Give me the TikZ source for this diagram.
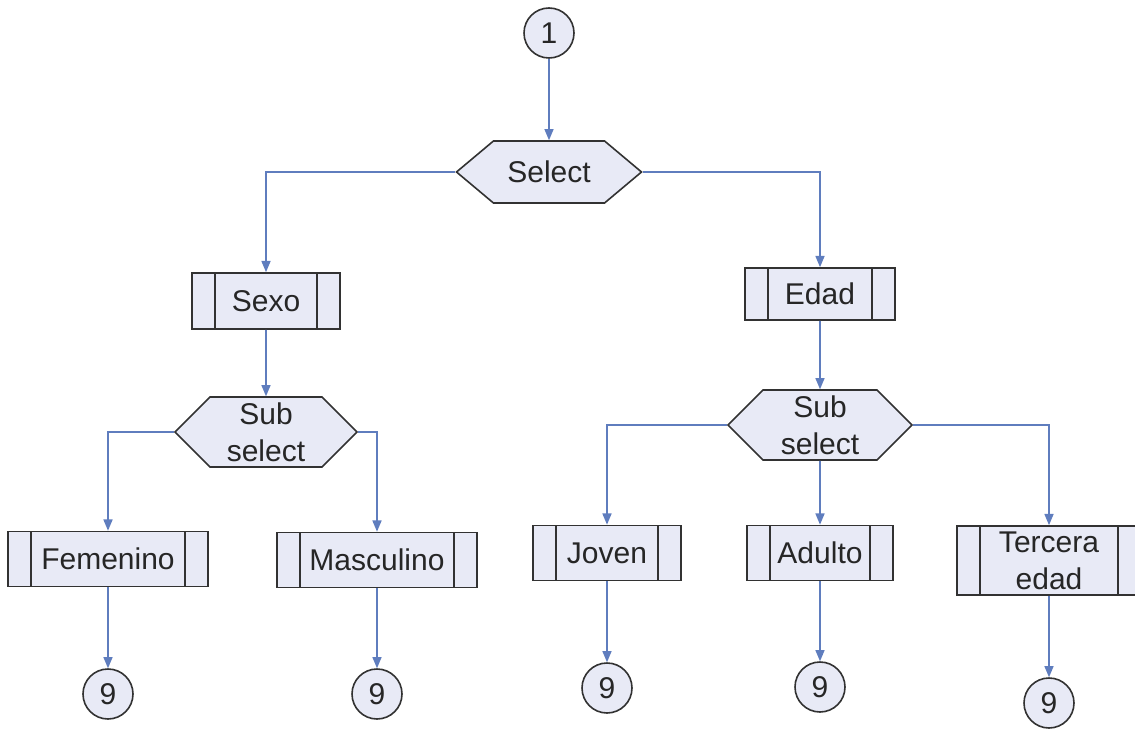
\documentclass[tikz,border=0pt]{standalone}
\usepackage{fontspec}
\setmainfont{Liberation Sans}
\usetikzlibrary{arrows, shapes.symbols}

\definecolor{boxfill}{RGB}{232,234,246}
\definecolor{flowblue}{RGB}{95,125,190}
\definecolor{boxline}{RGB}{50,50,50}

\tikzset{
  conn/.style={draw=boxline, fill=boxfill, circle, line width=1.6pt, minimum size=50pt, inner sep=0pt},
  choice/.style={draw=boxline, fill=boxfill, signal, signal to=west and east, line width=1.6pt, inner sep=0pt, align=center},
  proc/.style={draw=boxline, fill=boxfill, rectangle, line width=1.8pt, minimum height=55pt, inner sep=0pt, align=center,
    path picture={
      \draw[boxline, line width=1.8pt]
        ([xshift=23pt]path picture bounding box.north west) -- ([xshift=23pt]path picture bounding box.south west)
        ([xshift=-23pt]path picture bounding box.north east) -- ([xshift=-23pt]path picture bounding box.south east);}},
  flow/.style={draw=flowblue, line width=1.6pt, -triangle 45}
}

\begin{document}
\begin{tikzpicture}[x=1pt, y=-1pt, font=\fontsize{30}{37}\selectfont, text=black!85]
\useasboundingbox (0,0) rectangle (1135,730);
\node[conn] (one) at (549,33) {1};
\node[choice, minimum width=185pt, minimum height=62pt, signal pointer angle=80] (sel) at (549,172) {Select};
\node[proc, minimum width=148pt, minimum height=56pt] (sexo) at (266,301) {Sexo};
\node[proc, minimum width=150pt, minimum height=52pt] (edad) at (820,294) {Edad};
\node[choice, minimum width=182pt, minimum height=70pt, signal pointer angle=90] (subsexo) at (266,432) {Sub\\select};
\node[choice, minimum width=184pt, minimum height=70pt, signal pointer angle=90] (subedad) at (820,425) {Sub\\select};
\node[proc, minimum width=200pt] (fem) at (108,559) {Femenino};
\node[proc, minimum width=200pt] (masc) at (377,560) {Masculino};
\node[proc, minimum width=148pt] (joven) at (607,553) {Joven};
\node[proc, minimum width=146pt] (adulto) at (820,553) {Adulto};
\node[proc, minimum width=184pt, minimum height=69pt] (tercera) at (1049,560.5) {Tercera\\edad};
\node[conn] (nfem) at (108,694) {9};
\node[conn] (nmasc) at (377,694) {9};
\node[conn] (njoven) at (607,688) {9};
\node[conn] (nadulto) at (820,687) {9};
\node[conn] (ntercera) at (1049,703) {9};
\draw[flow] (one) -- (sel);
\draw[flow] (sel.west) -| (sexo);
\draw[flow] (sel.east) -| (edad);
\draw[flow] (sexo) -- (subsexo);
\draw[flow] (edad) -- (subedad);
\draw[flow] (subsexo.west) -| (fem);
\draw[flow] (subsexo.east) -| (masc);
\draw[flow] (subedad.west) -| (joven);
\draw[flow] (subedad) -- (adulto);
\draw[flow] (subedad.east) -| (tercera);
\draw[flow] (fem) -- (nfem);
\draw[flow] (masc) -- (nmasc);
\draw[flow] (joven) -- (njoven);
\draw[flow] (adulto) -- (nadulto);
\draw[flow] (tercera) -- (ntercera);
\end{tikzpicture}
\end{document}
